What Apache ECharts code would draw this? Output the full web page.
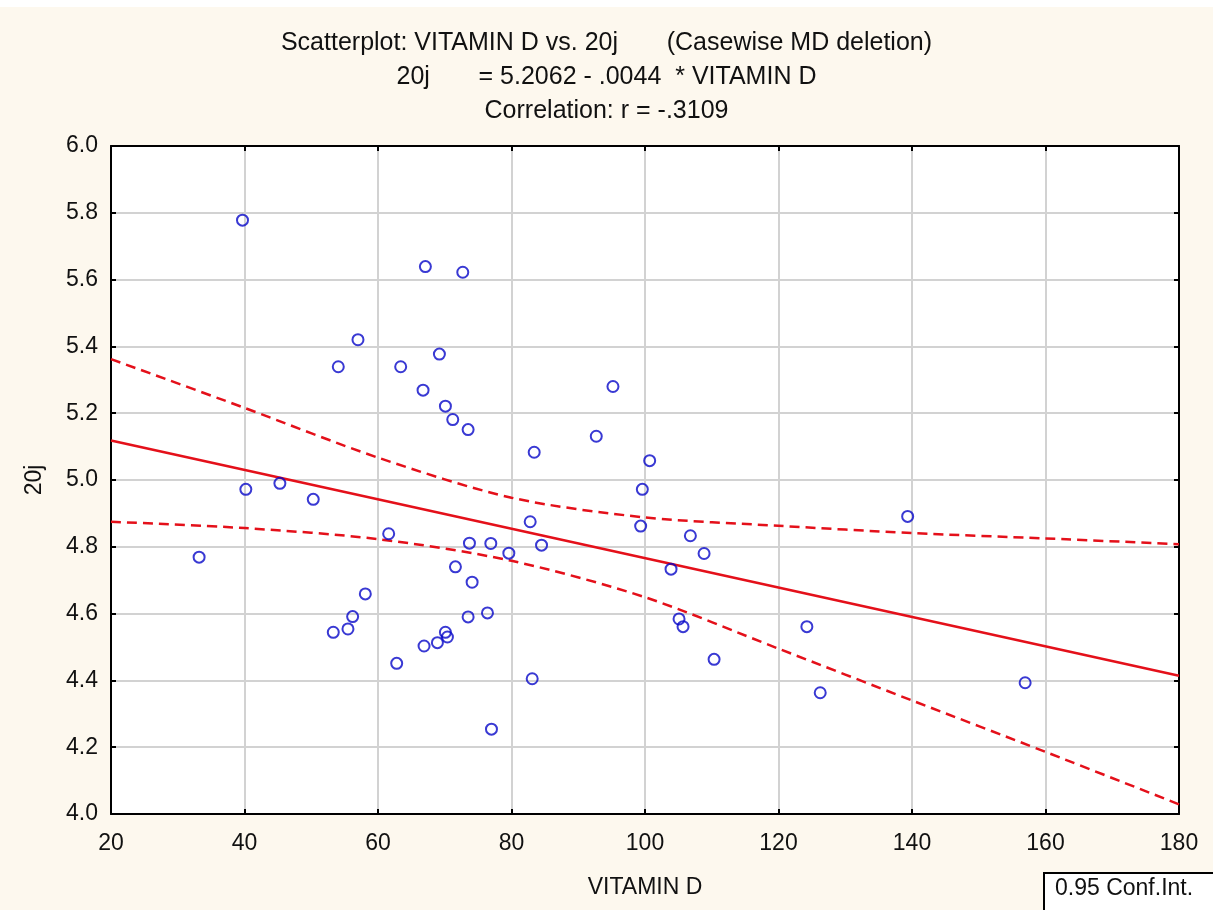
<!DOCTYPE html>
<html>
<head>
<meta charset="utf-8">
<title>Scatterplot: VITAMIN D vs. 20j</title>
<script src="https://cdn.jsdelivr.net/npm/echarts@6/dist/echarts.min.js"></script>
<style>
  html, body { margin: 0; padding: 0; background: #fdf8ee; }
  #chart { width: 1213px; height: 910px; }
</style>
</head>
<body>
<div id="chart"></div>
<script>
// observed points (VITAMIN D, 20j)
const vitaminD = [
  39.7, 40.2, 45.3, 50.3, 33.2, 61.6, 58.1, 56.2, 55.5, 53.3,
  62.8, 66.9, 68.9, 70.1, 70.4, 73.5, 76.4, 73.7, 76.9, 71.6,
  74.1, 77.0, 79.6, 82.8, 84.5, 83.1, 100.7, 99.6, 99.35, 106.8,
  108.85, 103.9, 105.1, 105.7, 110.35, 124.25, 126.25, 139.35, 156.95, 95.2,
  92.7, 83.4, 67.1, 72.7, 57.0, 54.05, 63.4, 69.2, 66.75, 70.1,
  71.2, 73.5
]
const val20j = [
  5.778, 4.972, 4.99, 4.942, 4.769, 4.839, 4.659, 4.591, 4.554, 4.544,
  4.451, 4.503, 4.513, 4.544, 4.53, 4.59, 4.602, 4.811, 4.81, 4.74,
  4.694, 4.254, 4.781, 4.875, 4.805, 4.405, 5.058, 4.972, 4.862, 4.833,
  4.78, 4.733, 4.584, 4.561, 4.463, 4.561, 4.363, 4.891, 4.393, 5.28,
  5.131, 5.083, 5.639, 5.622, 5.42, 5.339, 5.339, 5.377, 5.269, 5.221,
  5.181, 5.151
]

// regression: 20j = 5.2062 - .0044 * VITAMIN D
const fitX = [20, 180]
const fitY = [5.118, 4.414]

// 0.95 confidence band
const bandX = [20, 40, 60, 80, 100, 120, 140, 160, 180]
const bandUpper = [5.362, 5.216, 5.067, 4.947, 4.888, 4.863, 4.841, 4.825, 4.808]
const bandLower = [4.875, 4.856, 4.823, 4.758, 4.649, 4.495, 4.340, 4.186, 4.029]

const xTicks = [20, 40, 60, 80, 100, 120, 140, 160, 180]
const yTicks = ['4.0', '4.2', '4.4', '4.6', '4.8', '5.0', '5.2', '5.4', '5.6', '5.8', '6.0']

const font = '"Liberation Sans", Arial, sans-serif'
const red = '#e4101a'
const blue = '#0808c8'

const zip = (a, b) => a.map((v, i) => [v, b[i]])

const chart = echarts.init(document.getElementById('chart'))

const axisBase = {
  type: 'value',
  axisLine: { show: true, lineStyle: { color: '#000', width: 2 } },
  axisTick: { show: true, inside: true, length: 5, lineStyle: { color: '#000', width: 2 } }
}

const option = {
  backgroundColor: '#fdf8ee',
  animation: false,
  title: {
    text: 'Scatterplot: VITAMIN D vs. 20j       (Casewise MD deletion)\n20j       = 5.2062 - .0044  * VITAMIN D\nCorrelation: r = -.3109',
    left: 'center',
    top: 26,
    padding: 0,
    textStyle: {
      fontFamily: font,
      fontSize: 25,
      fontWeight: 'normal',
      color: '#111',
      lineHeight: 34,
      align: 'center'
    }
  },
  grid: { left: 111, right: 34, top: 146, bottom: 96, backgroundColor: '#fff', show: true, borderWidth: 0 },
  xAxis: [
    Object.assign({}, axisBase, {
      min: xTicks[0], max: xTicks[xTicks.length - 1], interval: 20,
      position: 'bottom',
      name: 'VITAMIN D',
      nameLocation: 'middle',
      nameGap: 62,
      nameTextStyle: { fontFamily: font, fontSize: 23, color: '#111' },
      axisLabel: { fontFamily: font, fontSize: 23, color: '#111', margin: 18 },
      splitLine: { show: true, lineStyle: { color: '#d2d2d2', width: 2 } }
    }),
    Object.assign({}, axisBase, {
      min: xTicks[0], max: xTicks[xTicks.length - 1], interval: 20,
      position: 'top',
      axisLabel: { show: false },
      splitLine: { show: false }
    })
  ],
  yAxis: [
    Object.assign({}, axisBase, {
      min: Number(yTicks[0]), max: Number(yTicks[yTicks.length - 1]), interval: 0.2,
      position: 'left',
      name: '20j',
      nameLocation: 'middle',
      nameGap: 65,
      nameTextStyle: { fontFamily: font, fontSize: 23, color: '#111' },
      axisLabel: {
        fontFamily: font, fontSize: 23, color: '#111', margin: 13,
        formatter: v => v.toFixed(1)
      },
      splitLine: { show: true, lineStyle: { color: '#d2d2d2', width: 2 } }
    }),
    Object.assign({}, axisBase, {
      min: Number(yTicks[0]), max: Number(yTicks[yTicks.length - 1]), interval: 0.2,
      position: 'right',
      axisLabel: { show: false },
      splitLine: { show: false }
    })
  ],
  series: [
    {
      name: 'upper',
      type: 'line',
      data: zip(bandX, bandUpper),
      smooth: 0.3,
      symbol: 'none',
      lineStyle: { color: red, width: 2.5, type: [10, 6] },
      z: 3
    },
    {
      name: 'lower',
      type: 'line',
      data: zip(bandX, bandLower),
      smooth: 0.3,
      symbol: 'none',
      lineStyle: { color: red, width: 2.5, type: [10, 6] },
      z: 3
    },
    {
      name: 'fit',
      type: 'line',
      data: zip(fitX, fitY),
      symbol: 'none',
      lineStyle: { color: red, width: 2.5 },
      z: 4
    },
    {
      name: 'points',
      type: 'scatter',
      data: zip(vitaminD, val20j),
      symbol: 'circle',
      symbolSize: 11,
      itemStyle: { color: 'rgba(0,0,0,0)', borderColor: blue, borderWidth: 2 },
      z: 5
    }
  ],
  graphic: [
    {
      type: 'rect',
      left: 0,
      top: 0,
      shape: { x: 0, y: 0, width: 1213, height: 7 },
      style: { fill: '#fff' }
    },
    {
      type: 'rect',
      left: 1043,
      top: 872,
      shape: { x: 0, y: 0, width: 190, height: 60 },
      style: { fill: '#fff', stroke: '#000', lineWidth: 2 }
    },
    {
      type: 'text',
      left: 1055,
      top: 877,
      style: {
        text: '0.95 Conf.Int.',
        fontFamily: font, fontSize: 23, fill: '#111'
      }
    }
  ]
}

chart.setOption(option)
</script>
</body>
</html>
